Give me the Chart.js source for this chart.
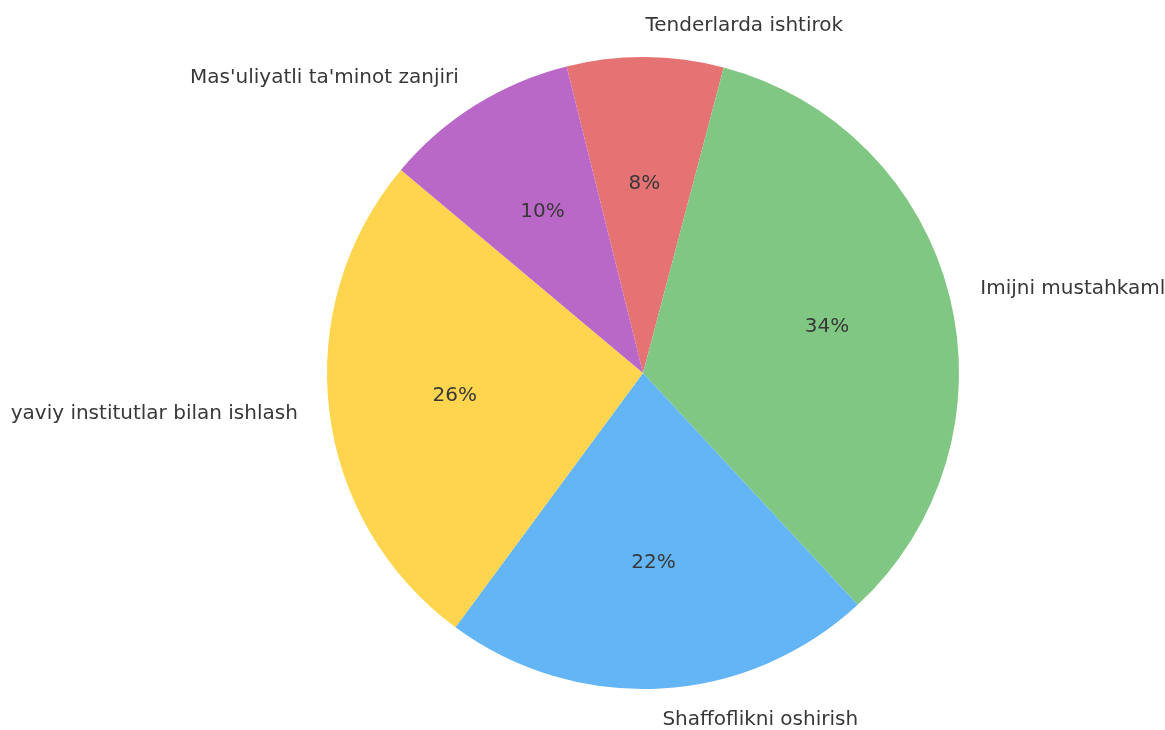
<!DOCTYPE html>
<html>
<head>
    <title>Pie</title>
    <script src="https://cdn.jsdelivr.net/npm/chart.js"></script>
    <style>
        html, body { margin: 0; padding: 0; background: #ffffff; overflow: hidden; }
        .wrap { position: relative; width: 1165px; height: 730px; }
    </style>
</head>
<body>
    <div class="wrap">
        <canvas id="pieChart"></canvas>
    </div>

    <script>
        // data (clockwise from the top)
        const categories = ['Tenderlarda ishtirok', 'Imijni mustahkamlash', 'Shaffoflikni oshirish',
                            'yaviy institutlar bilan ishlash', "Mas'uliyatli ta'minot zanjiri"];
        const shares = [8, 34, 22, 26, 10];
        const sliceColors = ['#e57373', '#81c784', '#64b5f6', '#ffd54f', '#ba68c8'];

        // labels outside (1.1 R) and percentages inside (0.6 R), like matplotlib
        const pieLabels = {
            id: 'pieLabels',
            afterDatasetsDraw(chart) {
                const ctx = chart.ctx;
                const meta = chart.getDatasetMeta(0);
                const total = shares.reduce((a, b) => a + b, 0);
                ctx.save();
                ctx.font = '20px "DejaVu Sans", sans-serif';
                ctx.fillStyle = '#383838';
                ctx.textBaseline = 'middle';
                meta.data.forEach((arc, i) => {
                    const mid = (arc.startAngle + arc.endAngle) / 2;
                    const r = arc.outerRadius;
                    const cos = Math.cos(mid), sin = Math.sin(mid);
                    // percentage
                    ctx.textAlign = 'center';
                    ctx.fillText(Math.round(shares[i] / total * 100) + '%', arc.x + cos * r * 0.6, arc.y + sin * r * 0.6);
                    // category label
                    const lx = arc.x + cos * r * 1.1;
                    const ly = arc.y + sin * r * 1.1;
                    ctx.textAlign = cos >= 0 ? 'left' : 'right';
                    ctx.fillText(categories[i], lx, ly);
                });
                ctx.restore();
            }
        };

        const config = {
            type: 'pie',
            data: {
                labels: categories,
                datasets: [{
                    data: shares,
                    backgroundColor: sliceColors,
                    borderWidth: 0
                }]
            },
            options: {
                responsive: true,
                maintainAspectRatio: false,
                animation: false,
                rotation: -14,
                layout: { padding: { left: 327, right: 206, top: 57, bottom: 41 } },
                plugins: {
                    legend: { display: false },
                    tooltip: { enabled: false }
                }
            },
            plugins: [pieLabels]
        };

        window.onload = () => {
            const ctx = document.getElementById('pieChart').getContext('2d');
            new Chart(ctx, config);
        };
    </script>
</body>
</html>
